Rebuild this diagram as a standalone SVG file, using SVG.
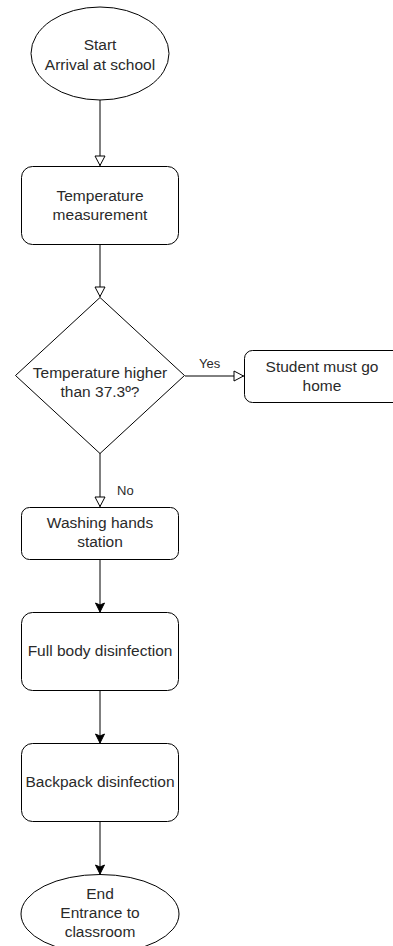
<svg xmlns="http://www.w3.org/2000/svg" width="393" height="946" viewBox="0 0 393 946">
<defs>
<marker id="open" viewBox="0 0 12 12" refX="11.5" refY="6" markerWidth="12" markerHeight="12" markerUnits="userSpaceOnUse" orient="auto">
<path d="M1.5,1 L11,6 L1.5,11 Z" fill="#fff" stroke="#000" stroke-width="1"/>
</marker>
<marker id="fill" viewBox="0 0 12 12" refX="11" refY="6" markerWidth="12" markerHeight="12" markerUnits="userSpaceOnUse" orient="auto">
<path d="M2,1.5 L11,6 L2,10.5 L4,6 Z" fill="#000" stroke="#000" stroke-width="1"/>
</marker>
</defs>
<style>
.n{fill:#fff;stroke:#000;stroke-width:1}
.t{font-family:"Liberation Sans",Arial,sans-serif;font-size:15.5px;fill:#2a2a2a;text-anchor:middle}
.e{fill:none;stroke:#000;stroke-width:1}
.l{font-family:"Liberation Sans",Arial,sans-serif;font-size:13px;fill:#2a2a2a}
</style>
<rect width="393" height="946" fill="#fff"/>
<g id="connectors">
<path class="e" d="M100,100 V166" marker-end="url(#open)"/>
<path class="e" d="M100,244 V297" marker-end="url(#open)"/>
<path class="e" d="M185,376 H244" marker-end="url(#open)"/>
<path class="e" d="M100,453 V507" marker-end="url(#open)"/>
<path class="e" d="M100,559 V612" marker-end="url(#fill)"/>
<path class="e" d="M100,691 V743" marker-end="url(#fill)"/>
<path class="e" d="M100,822 V874" marker-end="url(#fill)"/>
<text class="l" x="199" y="368">Yes</text>
<text class="l" x="117" y="495">No</text>
</g>
<g id="start">
<ellipse class="n" cx="100" cy="53.5" rx="69" ry="46.5"/>
<text class="t" x="100" y="50">Start</text>
<text class="t" x="100" y="70">Arrival at school</text>
</g>
<g id="temp">
<rect class="n" x="21.5" y="166.5" width="157" height="78" rx="11"/>
<text class="t" x="100" y="201">Temperature</text>
<text class="t" x="100" y="220">measurement</text>
</g>
<g id="decision">
<path class="n" d="M100,297.5 L184.5,375.5 L100,453.5 L15.5,375.5 Z"/>
<text class="t" x="100" y="378">Temperature higher</text>
<text class="t" x="100" y="397">than 37.3º?</text>
</g>
<g id="home">
<rect class="n" x="244.5" y="350.5" width="157" height="52" rx="8"/>
<text class="t" x="322" y="372">Student must go</text>
<text class="t" x="322" y="391">home</text>
</g>
<g id="wash">
<rect class="n" x="21.5" y="507.5" width="157" height="52" rx="8"/>
<text class="t" x="100" y="528">Washing hands</text>
<text class="t" x="100" y="547">station</text>
</g>
<g id="body">
<rect class="n" x="21.5" y="612.5" width="157" height="78" rx="11"/>
<text class="t" x="100" y="656">Full body disinfection</text>
</g>
<g id="backpack">
<rect class="n" x="21.5" y="743.5" width="157" height="78" rx="11"/>
<text class="t" x="100" y="787">Backpack disinfection</text>
</g>
<g id="end">
<ellipse class="n" cx="100" cy="914" rx="79" ry="39.5"/>
<text class="t" x="100" y="899">End</text>
<text class="t" x="100" y="918">Entrance to</text>
<text class="t" x="100" y="937">classroom</text>
</g>
</svg>
